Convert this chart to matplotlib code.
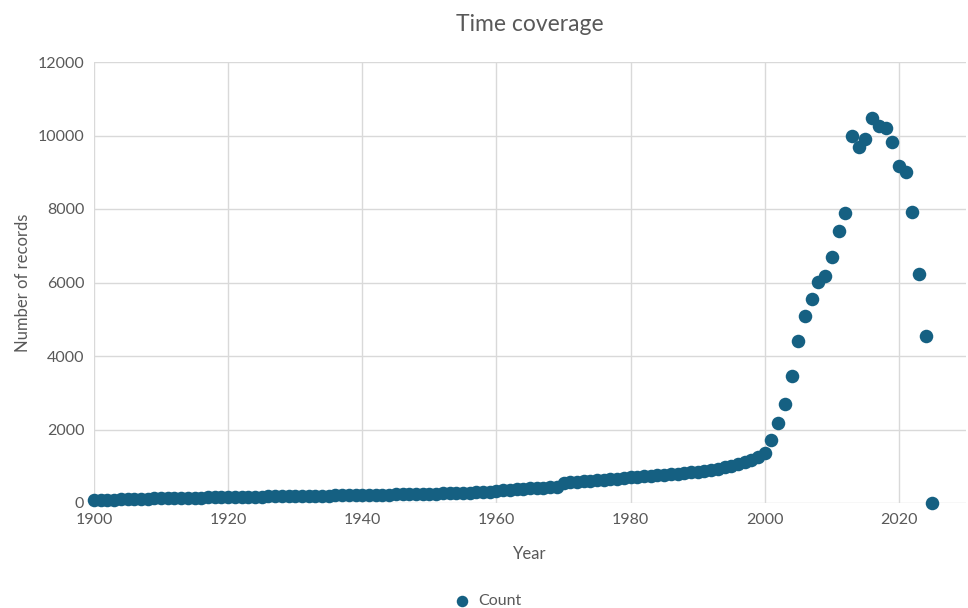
import matplotlib.pyplot as plt

years = list(range(1900, 2026))
counts = [
    70, 78, 85, 92, 100, 108, 112, 116, 120, 124,
    128, 132, 135, 138, 141, 144, 147, 150, 153, 157,
    160, 163, 166, 169, 172, 175, 177, 180, 183, 186,
    189, 192, 195, 198, 200, 203, 206, 209, 212, 215,
    218, 220, 223, 226, 229, 232, 236, 240, 244, 248,
    252, 256, 260, 265, 270, 276, 282, 288, 295, 302,
    335, 348, 360, 372, 384, 396, 408, 420, 432, 445,
    545, 560, 575, 590, 605, 620, 635, 650, 665, 682,
    698, 712, 726, 740, 755, 770, 785, 800, 818, 836,
    856, 878, 905, 935, 975, 1020, 1060, 1110, 1170, 1240,
    1370, 1714, 2168, 2694, 3465, 4399, 5088, 5560, 6014, 6177,
    6685, 7401, 7900, 9986, 9687, 9905, 10468, 10258, 10213, 9815,
    9161, 9015, 7918, 6231, 4544, 0,
]

grey = '#595959'
plt.rcParams['font.family'] = ['Lato', 'DejaVu Sans']

fig = plt.figure(figsize=(9.68, 6.08), dpi=100)
ax = fig.add_axes([94/968, 1 - 503/608, (966-94)/968, (503-62)/608])

# markers overlap the axis edges in the original, so no clipping
ax.scatter(years, counts, s=95, color='#156082', zorder=3, label='Count',
           linewidths=0, clip_on=False)

ax.set_xlim(1900, 2030)
ax.set_ylim(0, 12000)
ax.set_xticks(range(1900, 2021, 20))
ax.set_yticks(range(0, 12001, 2000))
ax.grid(True, color='#d9d9d9', linewidth=1)
ax.set_axisbelow(True)
for s in ax.spines.values():
    s.set_visible(False)
ax.tick_params(length=0, labelsize=11.5, colors=grey, pad=7)

ax.set_title('Time coverage', fontsize=16.5, color=grey, pad=22)
ax.set_xlabel('Year', fontsize=12, color=grey, labelpad=14)
ax.set_ylabel('Number of records', fontsize=12, color=grey, labelpad=5)

fig.legend(loc='center', bbox_to_anchor=(0.5, 1 - 601/608), frameon=False,
           fontsize=11.5, labelcolor=grey, handletextpad=0.0, markerscale=0.85)

fig.savefig('out.png', dpi=100)
